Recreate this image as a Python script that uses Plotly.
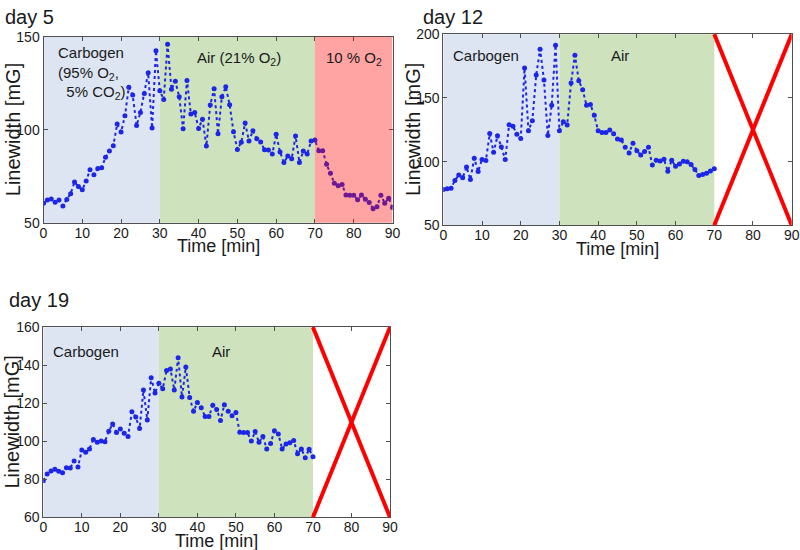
import plotly.graph_objects as go

# ---------------- data ----------------
time_day5 = list(range(0, 91))
lw_day5 = [60.4, 62.2, 62.7, 61.0, 62.2, 59.0, 62.5, 65.6, 71.9, 69.4, 67.7, 72.4, 78.5, 75.8, 79.2, 79.6, 85.2, 88.5,
           91.4, 103.0, 98.7, 107.5, 122.8, 118.6, 102.3, 109.3, 119.4, 130.6, 100.9, 142.5, 121.0, 116.3, 145.9, 121.7,
           126.0, 117.7, 100.5, 126.5, 108.4, 109.3, 100.7, 105.6, 91.2, 113.3, 122.0, 97.8, 117.7, 123.1, 113.4, 98.9,
           89.4, 93.2, 103.6, 93.9, 99.5, 95.2, 93.4, 89.2, 89.1, 86.9, 97.5, 88.0, 82.3, 85.8, 84.4, 96.6, 82.4, 88.5,
           86.9, 93.9, 94.4,
           88.7, 88.7, 81.4, 76.6, 71.2, 69.9, 70.6, 64.9, 64.7, 64.7, 62.4, 64.9, 62.6, 60.8, 57.5, 58.6, 64.7, 60.5,
           63.2, 58.2]

time_day12 = list(range(0, 71))
lw_day12 = [78.2, 78.7, 79.0, 85.2, 89.6, 87.3, 95.8, 86.0, 102.6, 92.2, 101.6, 100.8, 122.0, 107.3, 120.3, 111.4,
            101.6, 129.0, 127.8, 121.6, 118.2, 173.5, 124.2, 132.2, 168.0, 188.3, 164.2, 120.5, 144.2, 191.4, 124.2,
            131.4, 128.8, 161.8, 183.6, 163.6, 156.4, 144.2, 144.9, 136.4, 124.2, 122.9, 122.9, 124.9, 121.8, 117.7,
            116.9, 111.2, 106.8, 114.5, 108.6, 105.2, 108.0, 111.2, 97.4, 101.0, 100.5, 101.8, 92.5, 101.0, 96.4,
            98.2, 100.3, 100.0, 97.7, 93.8, 89.1, 89.9, 90.9, 92.7, 94.5]

time_day19 = list(range(0, 71))
lw_day19 = [79.3, 82.8, 84.4, 85.3, 84.2, 83.5, 86.1, 86.0, 89.6, 86.5, 95.4, 94.2, 96.0, 101.0, 99.5, 100.2, 99.8,
            105.3, 109.1, 104.6, 106.5, 104.2, 102.5, 115.6, 112.8, 106.7, 127.0, 111.2, 133.5, 125.4, 130.5, 127.7,
            137.2, 138.1, 127.0, 144.0, 123.3, 139.1, 123.0, 115.8, 120.4, 117.7, 113.0, 113.0, 119.0, 116.8, 111.0,
            119.3, 115.8, 113.5, 115.1, 104.7, 104.6, 104.6, 100.2, 105.1, 99.5, 102.5, 96.0, 98.8, 105.6, 103.9,
            96.0, 98.6, 99.3, 100.4, 93.5, 96.0, 91.4, 95.8, 91.9]

x_ticks = [0, 10, 20, 30, 40, 50, 60, 70, 80, 90]
y_range_day5, y_ticks_day5 = [50, 150], [50, 100, 150]
y_range_day12, y_ticks_day12 = [50, 200], [50, 100, 150, 200]
y_range_day19, y_ticks_day19 = [60, 160], [60, 80, 100, 120, 140, 160]

phase_carbogen = [0, 30]
phase_air = [30, 70]
phase_low = [70, 90]

# ---------------- style ----------------
FONT = "Liberation Sans, Arial, Helvetica, sans-serif"
BLUE = "rgb(28,38,232)"
C_CARB = "rgb(221,229,243)"
C_AIR = "rgb(206,226,190)"
W, H = 800, 550

panels = [
    ("", (43.5, 392.5), (36.7, 222.7), time_day5, lw_day5, y_range_day5, y_ticks_day5, "day 5", (3, 4)),
    ("2", (443.3, 791.7), (34.3, 225.3), time_day12, lw_day12, y_range_day12, y_ticks_day12, "day 12", (421, 4)),
    ("3", (43.3, 390.0), (327.3, 517.3), time_day19, lw_day19, y_range_day19, y_ticks_day19, "day 19", (7, 287)),
]

fig = go.Figure()
shapes = []
annotations = []
layout_axes = {}

for suf, (xl, xr), (yt, yb), tx, ty, yr, ytk, title, (tx_px, ty_px) in panels:
    xa = "x" + suf
    ya = "y" + suf
    fig.add_trace(go.Scatter(
        x=tx, y=ty, xaxis=xa, yaxis=ya, mode="lines+markers",
        line=dict(color=BLUE, width=2, dash="dot"),
        marker=dict(color=BLUE, size=5), showlegend=False, hoverinfo="x+y"))
    axis_common = dict(showline=True, mirror="ticks", linecolor="#505050", linewidth=1, automargin=False,
                       ticks="inside", ticklen=4, tickcolor="#505050", showgrid=False, zeroline=False,
                       tickfont=dict(family=FONT, size=14, color="#1a1a1a"))
    layout_axes["xaxis" + suf] = dict(domain=[xl / W, xr / W], range=[0, 90], tickvals=x_ticks,
                                      anchor=ya, ticklabelstandoff=-3, **axis_common)
    layout_axes["yaxis" + suf] = dict(domain=[1 - yb / H, 1 - yt / H], range=yr, tickvals=ytk,
                                      anchor=xa, **axis_common)
    shapes.append(dict(type="rect", xref=xa, yref=ya + " domain", x0=phase_carbogen[0], x1=phase_carbogen[1],
                       y0=0, y1=1, fillcolor=C_CARB, line=dict(width=0), layer="below"))
    shapes.append(dict(type="rect", xref=xa, yref=ya + " domain", x0=phase_air[0], x1=phase_air[1],
                       y0=0, y1=1, fillcolor=C_AIR, line=dict(width=0), layer="below"))
    annotations.append(dict(text=title, xref="paper", yref="paper", x=tx_px / W, y=1 - ty_px / H,
                            xanchor="left", yanchor="top", showarrow=False,
                            font=dict(family=FONT, size=20, color="#1a1a1a")))
    annotations.append(dict(text="Linewidth [mG]", xref="paper", yref="paper", x=(xl - 31) / W,
                            y=1 - (yt + yb) / 2 / H, textangle=-90, xanchor="center", yanchor="middle",
                            showarrow=False, font=dict(family=FONT, size=20, color="#1a1a1a")))
    annotations.append(dict(text="Time [min]", xref="paper", yref="paper", x=(xl + xr) / 2 / W,
                            y=1 - (yb + 23.5) / H, xanchor="center", yanchor="middle",
                            showarrow=False, font=dict(family=FONT, size=18, color="#1a1a1a")))

shapes.append(dict(type="rect", xref="x", yref="y domain", x0=phase_low[0], x1=phase_low[1], y0=0, y1=1,
                   fillcolor="rgba(255,0,0,0.36)", line=dict(width=0), layer="above"))

for suf in ["2", "3"]:
    for (ya0, ya1) in [(0, 1), (1, 0)]:
        shapes.append(dict(type="line", xref="x" + suf, yref="y" + suf + " domain",
                           x0=phase_low[0], x1=phase_low[1], y0=ya0, y1=ya1,
                           line=dict(color="rgb(255,0,0)", width=4), layer="above"))

LBL = dict(family=FONT, size=15, color="#1a1a1a")
annotations += [
    dict(text="Carbogen<br>(95% O<sub>2</sub>,<br>  5% CO<sub>2</sub>)", xref="x", yref="y", x=3.3, y=147,
         xanchor="left", yanchor="top", align="left", showarrow=False, font=LBL),
    dict(text="Air (21% O<sub>2</sub>)", xref="x", yref="y", x=50.5, y=138.5, showarrow=False, font=LBL),
    dict(text="10 % O<sub>2</sub>", xref="x", yref="y", x=80, y=138.5, showarrow=False, font=LBL),
    dict(text="Carbogen", xref="x2", yref="y2", x=11, y=183, showarrow=False, font=LBL),
    dict(text="Air", xref="x2", yref="y2", x=45.7, y=183, showarrow=False, font=LBL),
    dict(text="Carbogen", xref="x3", yref="y3", x=11.1, y=147.2, showarrow=False, font=LBL),
    dict(text="Air", xref="x3", yref="y3", x=46, y=147.2, showarrow=False, font=LBL),
]

fig.update_layout(width=W, height=H, margin=dict(l=0, r=0, t=0, b=0),
                  paper_bgcolor="white", plot_bgcolor="white",
                  shapes=shapes, annotations=annotations, showlegend=False, **layout_axes)

fig.write_html("out.html", config={"displayModeBar": False},
               post_script="document.body.style.margin='0px';document.body.style.overflow='hidden';")
